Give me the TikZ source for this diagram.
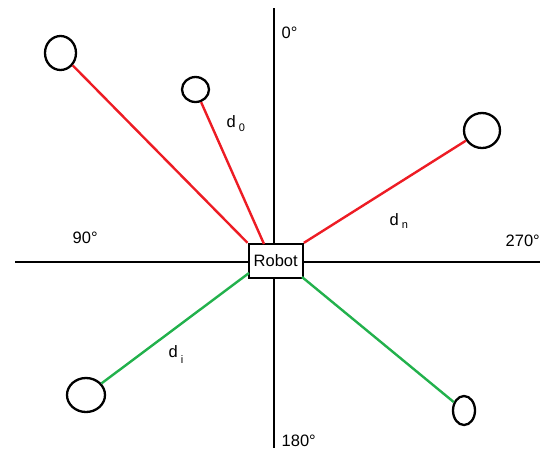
\documentclass[tikz,border=0pt]{standalone}
\usepackage{fontspec}
\setmainfont{Liberation Sans}
\usetikzlibrary{shapes.geometric,backgrounds}
\definecolor{paintred}{RGB}{237,28,36}
\definecolor{paintgreen}{RGB}{34,177,76}
\tikzset{
  obst/.style={draw, ellipse, line width=2.3pt, inner sep=0pt, fill=white},
  robotbox/.style={draw, rectangle, line width=2.3pt, fill=white, inner sep=0pt, minimum width=54pt, minimum height=34pt, font=\fontsize{16.5}{18}\selectfont},
  axis/.style={line width=2.4pt, black},
  redlink/.style={line width=2.4pt, paintred},
  greenlink/.style={line width=2.4pt, paintgreen},
  lbl/.style={anchor=base west, inner sep=0pt, font=\fontsize{16.5}{18}\selectfont},
}
\newcommand{\dsub}[2]{d\hspace{3pt}\raisebox{-#2pt}{\fontsize{11}{12}\selectfont #1}}
\begin{document}
\begin{tikzpicture}[x=1pt,y=-1pt]
\useasboundingbox (0,0) rectangle (540,448);
% robot
\node[robotbox] (robot) at (275.7,261) {Robot};
% obstacles
\node[obst, minimum width=31pt, minimum height=34pt] (c1) at (60.5,53) {};
\node[obst, minimum width=27pt, minimum height=25pt] (c2) at (195.5,89.5) {};
\node[obst, minimum width=36pt, minimum height=35pt] (c3) at (482,130.5) {};
\node[obst, minimum width=38pt, minimum height=34pt] (c4) at (86,395) {};
\node[obst, minimum width=22pt, minimum height=29pt] (c5) at (464,410.5) {};
% endpoints on the box
\coordinate (r0) at (264,244);
\coordinate (ri) at (249,273);
\coordinate (rk) at (302,277);
% axes
\coordinate (axT) at (274,8);
\coordinate (axB) at (274,448);
\coordinate (axL) at (15,262);
\coordinate (axR) at (540,262);
\begin{scope}[on background layer]
\draw[axis] (axT) -- (axB);
\draw[axis] (axL) -- (axR);
\end{scope}
% connectors
\draw[redlink] (c1) -- (robot.north west);
\draw[redlink] (c2) -- (r0);
\draw[redlink] (c3) -- (robot.north east);
\draw[greenlink] (c4) -- (ri);
\draw[greenlink] (c5) -- (rk);
% labels
\node[lbl] (l0) at (281.5,38.5) {0°};
\node[lbl] (l90) at (72.5,243) {90°};
\node[lbl] (l270) at (505.5,246) {270°};
\node[lbl] (l180) at (281.5,446) {180°};
\node[lbl] (d0) at (226.5,127) {\dsub{0}{4}};
\node[lbl] (dn) at (389.5,225) {\dsub{n}{3}};
\node[lbl] (di) at (168.5,357) {\dsub{i}{6}};
\end{tikzpicture}
\end{document}
